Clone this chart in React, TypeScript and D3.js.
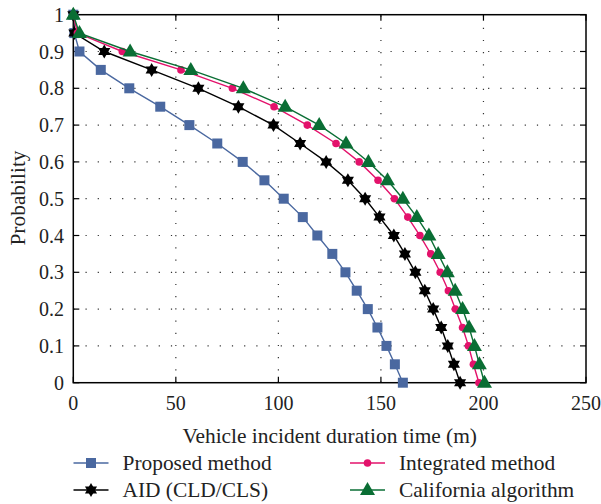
import { useEffect, useRef } from 'react'
import * as d3 from 'd3'

// probability levels shared by every series
const probs = [1, 0.95, 0.9, 0.85, 0.8, 0.75, 0.7, 0.65, 0.6, 0.55, 0.5, 0.45, 0.4, 0.35, 0.3, 0.25, 0.2, 0.15, 0.1, 0.05, 0]

const proposed = [0, 0.5, 3, 13.4, 27.3, 42.4, 56.6, 70.2, 82.6, 93.2, 102.6, 111.9, 119, 126.3, 132.7, 138.2, 143.6, 148.3, 152.7, 156.8, 160.7]
const aid = [0, 0.5, 15.1, 38.2, 61, 80.5, 97.6, 110.6, 123.3, 133.9, 142.3, 149.3, 156.3, 161.7, 166.8, 171.4, 175.5, 179.4, 182.6, 185.6, 188.6]
const integrated = [0, 2, 23.9, 52.5, 77.6, 97.9, 114.1, 128.1, 139.4, 148.6, 156.6, 163.1, 169, 174.3, 178.9, 182.9, 186.3, 189.8, 192.7, 195.1, 197.8]
const california = [0, 3, 27.7, 57.3, 82.9, 103.3, 119.9, 133, 143.9, 153.2, 160.7, 167.5, 173.4, 177.9, 182.4, 186.2, 189.8, 193, 195.6, 198, 200.5]

const xTicks = [0, 50, 100, 150, 200, 250]
const yTicks = [0, 0.1, 0.2, 0.3, 0.4, 0.5, 0.6, 0.7, 0.8, 0.9, 1]

const series = [
  { name: 'Proposed method', values: proposed, color: '#4a68a0', marker: 'square' },
  { name: 'AID (CLD/CLS)', values: aid, color: '#000000', marker: 'star' },
  { name: 'Integrated method', values: integrated, color: '#e3126b', marker: 'circle' },
  { name: 'California algorithm', values: california, color: '#0a6e34', marker: 'triangle' },
]

const FONT = '"Liberation Serif", serif'

function drawMarker(g: any, type: string, x: number, y: number, color: string) {
  if (type === 'square') {
    g.append('rect').attr('x', x - 5).attr('y', y - 5).attr('width', 10).attr('height', 10).attr('fill', color)
  } else if (type === 'circle') {
    g.append('circle').attr('cx', x).attr('cy', y).attr('r', 3.8).attr('fill', color)
  } else if (type === 'triangle') {
    g.append('path')
      .attr('d', `M${x},${y - 8}L${x + 7.5},${y + 5}L${x - 7.5},${y + 5}Z`)
      .attr('fill', color)
  } else {
    // six-pointed star from two triangles
    const r = 7
    const tri = (a0: number) => d3.range(3).map(k => {
      const a = a0 + (k * 2 * Math.PI) / 3
      return [x + r * Math.cos(a), y + r * Math.sin(a)]
    })
    ;[tri(-Math.PI / 2), tri(Math.PI / 2)].forEach(pts => {
      g.append('path').attr('d', 'M' + pts.map(p => p.join(',')).join('L') + 'Z').attr('fill', color)
    })
  }
}

export default function App() {
  const ref = useRef<SVGSVGElement>(null)

  useEffect(() => {
    if (!ref.current) return
    const svg = d3.select(ref.current)
    svg.selectAll('*').remove()

    const left = 73.3, right = 586, top = 14.7, bottom = 382.7
    const x = d3.scaleLinear().domain([0, 250]).range([left, right])
    const y = d3.scaleLinear().domain([0, 1]).range([bottom, top])

    // dotted grid
    const grid = svg.append('g')
    yTicks.filter(t => t > 0 && t < 1).forEach(t => {
      grid.append('line').attr('x1', left).attr('x2', right).attr('y1', y(t)).attr('y2', y(t))
        .attr('stroke', '#333').attr('stroke-width', 1.2).attr('stroke-dasharray', '1.2,11')
    })
    xTicks.filter(t => t > 0 && t < 250).forEach(t => {
      grid.append('line').attr('x1', x(t)).attr('x2', x(t)).attr('y1', bottom).attr('y2', top)
        .attr('stroke', '#333').attr('stroke-width', 1.2).attr('stroke-dasharray', '1.2,11')
    })

    // ticks inward on all sides
    const ticks = svg.append('g').attr('stroke', '#000').attr('stroke-width', 1.2)
    xTicks.forEach(t => {
      ticks.append('line').attr('x1', x(t)).attr('x2', x(t)).attr('y1', bottom).attr('y2', bottom - 6)
      ticks.append('line').attr('x1', x(t)).attr('x2', x(t)).attr('y1', top).attr('y2', top + 6)
    })
    yTicks.forEach(t => {
      ticks.append('line').attr('x1', left).attr('x2', left + 6).attr('y1', y(t)).attr('y2', y(t))
      ticks.append('line').attr('x1', right).attr('x2', right - 6).attr('y1', y(t)).attr('y2', y(t))
    })

    svg.append('rect').attr('x', left).attr('y', top).attr('width', right - left).attr('height', bottom - top)
      .attr('fill', 'none').attr('stroke', '#000').attr('stroke-width', 1.5)

    // tick labels
    xTicks.forEach(t => {
      svg.append('text').attr('x', x(t)).attr('y', 410).attr('text-anchor', 'middle')
        .attr('font-family', FONT).attr('font-size', 20).attr('fill', '#222').text(t)
    })
    yTicks.forEach(t => {
      svg.append('text').attr('x', 64).attr('y', y(t)).attr('dy', '0.35em').attr('text-anchor', 'end')
        .attr('font-family', FONT).attr('font-size', 20).attr('fill', '#222').text(t === 0 || t === 1 ? String(t) : t.toFixed(1))
    })

    svg.append('text').attr('x', 329.7).attr('y', 443).attr('text-anchor', 'middle')
      .attr('font-family', FONT).attr('font-size', 21.4).attr('fill', '#222').text('Vehicle incident duration time (m)')
    svg.append('text').attr('transform', 'translate(25,198) rotate(-90)').attr('text-anchor', 'middle')
      .attr('font-family', FONT).attr('font-size', 21.4).attr('fill', '#222').text('Probability')

    const line = d3.line<number>().x(d => x(d)).y((d, i) => y(probs[i]))

    series.forEach(s => {
      const g = svg.append('g')
      g.append('path').datum(s.values).attr('d', line).attr('fill', 'none')
        .attr('stroke', s.color).attr('stroke-width', 1.4)
      s.values.forEach((v, i) => drawMarker(g, s.marker, x(v), y(probs[i]), s.color))
    })

    // legend
    const legendPos = [[73.5, 463], [73.5, 490], [350, 463], [350, 490]]
    series.forEach((s, i) => {
      const [lx, ly] = legendPos[i]
      const g = svg.append('g')
      g.append('line').attr('x1', lx).attr('x2', lx + 35).attr('y1', ly).attr('y2', ly)
        .attr('stroke', s.color).attr('stroke-width', 1.4)
      drawMarker(g, s.marker, lx + 17.5, ly, s.color)
      g.append('text').attr('x', lx + 49).attr('y', ly).attr('dy', '0.35em')
        .attr('font-family', FONT).attr('font-size', 21.4).attr('fill', '#222').text(s.name)
    })
  }, [])

  return (
    <svg ref={ref} width={601} height={504} style={{ position: 'absolute', left: 0, top: 0, background: '#fff' }}></svg>
  )
}
